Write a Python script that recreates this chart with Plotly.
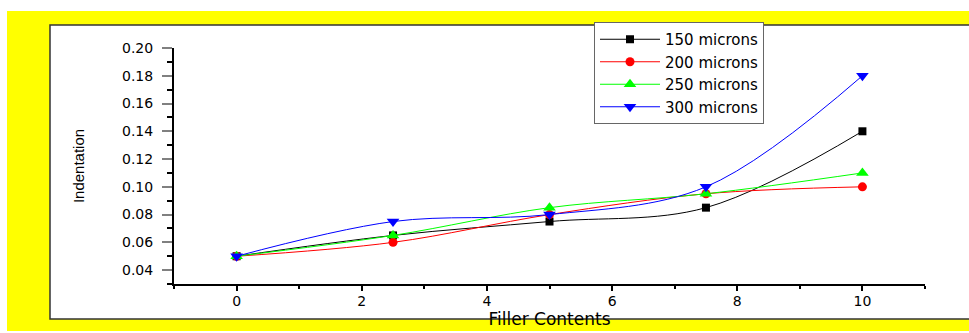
import plotly.graph_objects as go

filler = [0, 2.5, 5, 7.5, 10]
s150 = [0.05, 0.065, 0.075, 0.085, 0.14]
s200 = [0.05, 0.060, 0.080, 0.095, 0.10]
s250 = [0.05, 0.065, 0.085, 0.095, 0.11]
s300 = [0.05, 0.075, 0.080, 0.100, 0.18]
names = ["150 microns", "200 microns", "250 microns", "300 microns"]
series = [s150, s200, s250, s300]
colors = ["#000000", "#ff0000", "#00ff00", "#0000ff"]
symbols = ["square", "circle", "triangle-up", "triangle-down"]
msizes = [8, 9, 11, 11]

W, H = 969, 333
L, R, T, B = 174, 44, 48, 49
pw, ph = W - L - R, H - T - B

def px(x):
    return (x - L) / pw

def py(y):
    return (H - B - y) / ph

fig = go.Figure()
for n, s, c, sym, ms in zip(names, series, colors, symbols, msizes):
    fig.add_trace(go.Scatter(
        x=filler, y=s, name=n, mode="lines+markers",
        line=dict(color=c, width=1, shape="spline", smoothing=1),
        marker=dict(symbol=sym, size=ms, color=c),
    ))

shapes = [
    dict(type="rect", xref="paper", yref="paper", x0=px(7), x1=px(1100), y0=py(331), y1=py(11),
         fillcolor="#ffff00", line=dict(width=0), layer="below"),
    dict(type="rect", xref="paper", yref="paper", x0=px(50), x1=px(1100), y0=py(319), y1=py(25),
         fillcolor="#ffffff", line=dict(width=0), layer="below"),
    dict(type="path", xref="paper", yref="paper",
         path=f"M {px(1100)},{py(25)} L {px(50)},{py(25)} L {px(50)},{py(319)} L {px(1100)},{py(319)}",
         line=dict(color="#333333", width=1.5), layer="below"),
]

tickfont = dict(family="DejaVu Sans", size=14, color="#000000")
fig.update_layout(
    width=W, height=H,
    margin=dict(l=L, r=R, t=T, b=B, autoexpand=False),
    paper_bgcolor="#ffffff",
    plot_bgcolor="rgba(0,0,0,0)",
    shapes=shapes,
    showlegend=True,
    legend=dict(
        xref="container", yref="container",
        x=594 / W, y=1 - 22 / H, xanchor="left", yanchor="top",
        bgcolor="#ffffff", bordercolor="#666666", borderwidth=1,
        font=dict(family="DejaVu Sans", size=15, color="#000000"),
        tracegroupgap=0, itemwidth=60,
    ),
    xaxis=dict(
        automargin=False,
        range=[-1, 11], tickvals=[0, 2, 4, 6, 8, 10], ticktext=["0", "2", "4", "6", "8", "10"],
        ticklabelstandoff=-2,
        showgrid=False, zeroline=False, showline=True, linecolor="#000000", linewidth=1.5,
        ticks="outside", ticklen=5, tickwidth=1.5, tickcolor="#000000", tickfont=tickfont,
        minor=dict(tickvals=[-1, 1, 3, 5, 7, 9, 11], ticks="outside", ticklen=3, tickwidth=1.5, tickcolor="#000000"),
        title=dict(text="Filler Contents", font=dict(family="DejaVu Sans", size=17, color="#000000"), standoff=0),
    ),
    yaxis=dict(
        automargin=False,
        range=[0.03, 0.20], tickvals=[0.04, 0.06, 0.08, 0.10, 0.12, 0.14, 0.16, 0.18, 0.20],
        tickformat=".2f", ticklabelstandoff=6,
        showgrid=False, zeroline=False, showline=True, linecolor="#000000", linewidth=2,
        ticks="outside", ticklen=10, tickwidth=1.5, tickcolor="#808080", tickfont=tickfont,
        minor=dict(tickvals=[0.03, 0.05, 0.07, 0.09, 0.11, 0.13, 0.15, 0.17, 0.19], ticks="outside", ticklen=5, tickwidth=1.5, tickcolor="#000000"),
        title=dict(text="Indentation", font=dict(family="Liberation Sans Narrow, Liberation Sans", size=15, color="#000000"), standoff=34),
    ),
)

fig.write_html("out.html", config={"displayModeBar": False},
               post_script="document.body.style.margin='0';")
